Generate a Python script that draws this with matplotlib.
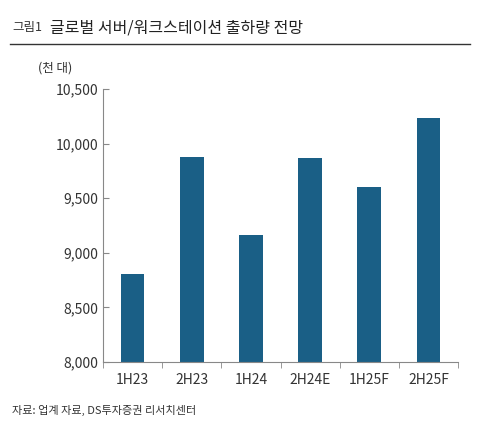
import matplotlib
matplotlib.use("Agg")
import matplotlib.pyplot as plt
from matplotlib.ticker import FuncFormatter

plt.rcParams['font.family'] = ['Noto Sans CJK KR', 'DejaVu Sans']

categories = ["1H23", "2H23", "1H24", "2H24E", "1H25F", "2H25F"]
values = [8805, 9881, 9159, 9872, 9604, 10235]

fig = plt.figure(figsize=(4.86, 4.26), dpi=100)
ax = fig.add_axes([103/486, 1-362/426, 355/486, 273/426])
x = range(len(categories))
ax.bar(x, values, width=0.4, color="#1a5f86", zorder=2)
ax.set_ylim(8000, 10500)
ax.set_xlim(-0.5, len(categories) - 0.5)
ax.set_yticks(range(8000, 10501, 500))
ax.yaxis.set_major_formatter(FuncFormatter(lambda v, p: f"{int(v):,}"))
ax.set_xticks(list(x))
ax.set_xticklabels(categories)
ax.set_xticks([i + 0.5 for i in range(-1, len(categories))], minor=True)
ax.tick_params(axis='x', which='major', length=0, pad=8, labelsize=10, colors="#333333")
ax.tick_params(axis='x', which='minor', length=4, direction='out', color="#888888")
ax.tick_params(axis='y', length=4, direction='in', color="#888888", labelsize=10, labelcolor="#333333")
for s in ["top", "right"]:
    ax.spines[s].set_visible(False)
for s in ["left", "bottom"]:
    ax.spines[s].set_color("#888888")

fig.text(55/486, 1-68/426, "(천 대)", fontsize=9, color="#333333", ha="center", va="center")
fig.text(12/486, 1-28/426, "그림1", fontsize=9, color="#333333", va="center")
fig.text(50/486, 1-28/426, "글로벌 서버/워크스테이션 출하량 전망", fontsize=11.5, color="#222222", va="center")
fig.add_artist(plt.Line2D([10/486, 470/486], [1-44/426, 1-44/426], color="#333333", lw=1))
fig.text(12/486, 1-410/426, "자료: 업계 자료, DS투자증권 리서치센터", fontsize=8, color="#333333", va="center")

fig.savefig("out.png", dpi=100)
